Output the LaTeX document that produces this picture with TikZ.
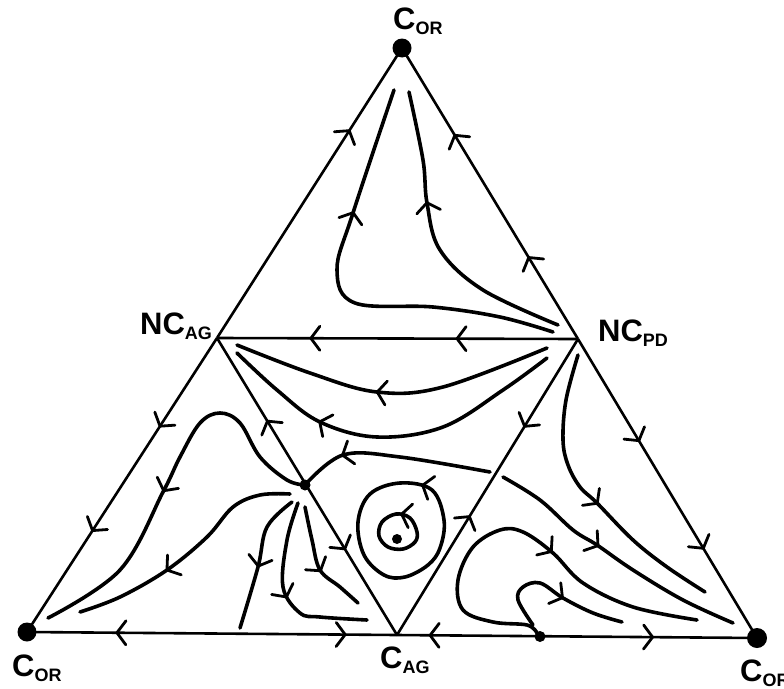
\documentclass[tikz,border=0pt]{standalone}
\usepackage{fontspec}
\setmainfont{Liberation Sans}
\usetikzlibrary{decorations.markings}
\newcommand{\chevf}{\draw[line width=2.8pt,line cap=round,line join=round,solid] (-9pt,12pt) -- (0pt,0pt) -- (-9pt,-12pt);}
\newcommand{\chevb}{\draw[line width=2.8pt,line cap=round,line join=round,solid] (9pt,12pt) -- (0pt,0pt) -- (9pt,-12pt);}
\tikzset{
  edgeline/.style={line width=2.6pt},
  flow/.style={line width=3.6pt, line cap=round},
  fwd/.style={postaction={decorate,decoration={markings,mark=at position #1 with {\chevf}}}},
  bwd/.style={postaction={decorate,decoration={markings,mark=at position #1 with {\chevb}}}},
  lbl/.style={anchor=base west, inner sep=0pt, font=\fontsize{31}{31}\selectfont\bfseries},
}
\newcommand{\sbs}[1]{\raisebox{-5pt}{\fontsize{18}{18}\selectfont #1}}
\begin{document}
\begin{tikzpicture}[x=1pt,y=-1pt]
\useasboundingbox (0,0) rectangle (784,688);
\coordinate (T) at (402,48);
\coordinate (L) at (27,632);
\coordinate (R) at (757,638);
\coordinate (NA) at (217,338);
\coordinate (NP) at (578,339);
\coordinate (CA) at (397,635);
\coordinate (S) at (305,485);
\coordinate (B) at (540,636.5);
\coordinate (Z) at (397,539);
% edges
\draw[edgeline, fwd=0.715] (NA) -- (T);
\draw[edgeline, fwd=0.28, fwd=0.70] (NP) -- (T);
\draw[edgeline, fwd=0.335, fwd=0.74] (NP) -- (NA);
\draw[edgeline, fwd=0.30, fwd=0.655] (NA) -- (L);
\draw[edgeline, fwd=0.34, fwd=0.70] (NP) -- (R);
\draw[edgeline, bwd=0.243, fwd=0.86] (L) -- (CA);
\draw[edgeline, bwd=0.092, fwd=0.71] (CA) -- (R);
\draw[edgeline, bwd=0.28, fwd=0.71] (NA) -- (CA);
\draw[edgeline, fwd=0.40, bwd=0.705] (CA) -- (NP);
% top region
\draw[flow, fwd=0.70] plot[smooth, tension=0.6] coordinates {(553,332) (500,317) (433,307) (355,303) (337,270) (353,213) (394,90)};
\draw[flow, fwd=0.63] plot[smooth, tension=0.6] coordinates {(558,325) (483,290) (440,250) (427,203) (423,160) (409,92)};
% middle band
\draw[flow, fwd=0.545] plot[smooth, tension=0.6] coordinates {(547,348) (443,387) (377,392) (310,373) (237,345)};
\draw[flow, fwd=0.70] plot[smooth, tension=0.6] coordinates {(547,358) (503,390) (443,427) (377,437) (320,422) (277,390) (237,353)};
% from saddle
\draw[flow, fwd=0.755] plot[smooth, tension=0.6] coordinates {(490,472) (400,457) (343,455) (S)};
\draw[flow, fwd=0.55] plot[smooth, tension=0.6] coordinates {(S) (287,480) (260,457) (240,423) (220,413) (200,423) (180,457) (163,492) (120,570) (48,618)};
\draw[flow, fwd=0.61] plot[smooth, tension=0.6] coordinates {(290,494) (260,495) (233,507) (207,537) (167,570) (120,597) (80,612)};
\draw[flow, fwd=0.54] plot[smooth, tension=0.6] coordinates {(292,502) (267,527) (258,567) (240,628)};
\draw[flow, fwd=0.52] plot[smooth, tension=0.6] coordinates {(298,503) (287,540) (283,587) (300,613) (320,617) (367,620)};
\draw[flow, fwd=0.57] plot[smooth, tension=0.6] coordinates {(305,507) (312,540) (320,570) (340,587) (358,603)};
% spiral
\draw[flow, fwd=0.15] plot[smooth cycle, tension=0.6] coordinates {(440,548) (444,520) (432,490) (400,483) (370,494) (358,522) (364,555) (384,575) (405,577) (428,565)};
\draw[flow, fwd=0.08] plot[smooth cycle, tension=0.6] coordinates {(417,532) (410,518) (396,514) (382,522) (379,536) (388,547) (403,549) (415,542)};
% right lower region
\draw[flow, fwd=0.535] plot[smooth, tension=0.6] coordinates {(578,355) (566,400) (563,440) (568,465) (580,487) (597,503) (633,540) (667,567) (705,592)};
\draw[flow, fwd=0.43] plot[smooth, tension=0.6] coordinates {(503,477) (540,500) (573,530) (597,545) (633,570) (683,600) (733,623)};
\draw[flow, fwd=0.59] plot[smooth, tension=0.6] coordinates {(537,633) (527,625) (493,622) (463,610) (458,580) (473,547) (500,530) (523,532) (553,553) (583,583) (633,607) (697,620)};
\draw[flow, fwd=0.58] plot[smooth, tension=0.6] coordinates {(533,625) (518,600) (523,587) (540,583) (563,598) (593,613) (622,622)};
% dots
\fill (T) circle (9.5pt);
\fill (L) circle (9.5pt);
\fill (R) circle (10pt);
\fill (S) circle (5.5pt);
\fill (B) circle (5.5pt);
\fill (Z) circle (5pt);
% labels
\node[lbl] (lt) at (393,29) {C\sbs{OR}};
\node[lbl] (ll) at (12,676) {C\sbs{OR}};
\node[lbl] (lc) at (380,668) {C\sbs{AG}};
\node[lbl] (lr) at (740,681) {C\sbs{OR}};
\node[lbl] (lna) at (140,334) {NC\sbs{AG}};
\node[lbl] (lnp) at (598,341) {NC\sbs{PD}};
\end{tikzpicture}
\end{document}
